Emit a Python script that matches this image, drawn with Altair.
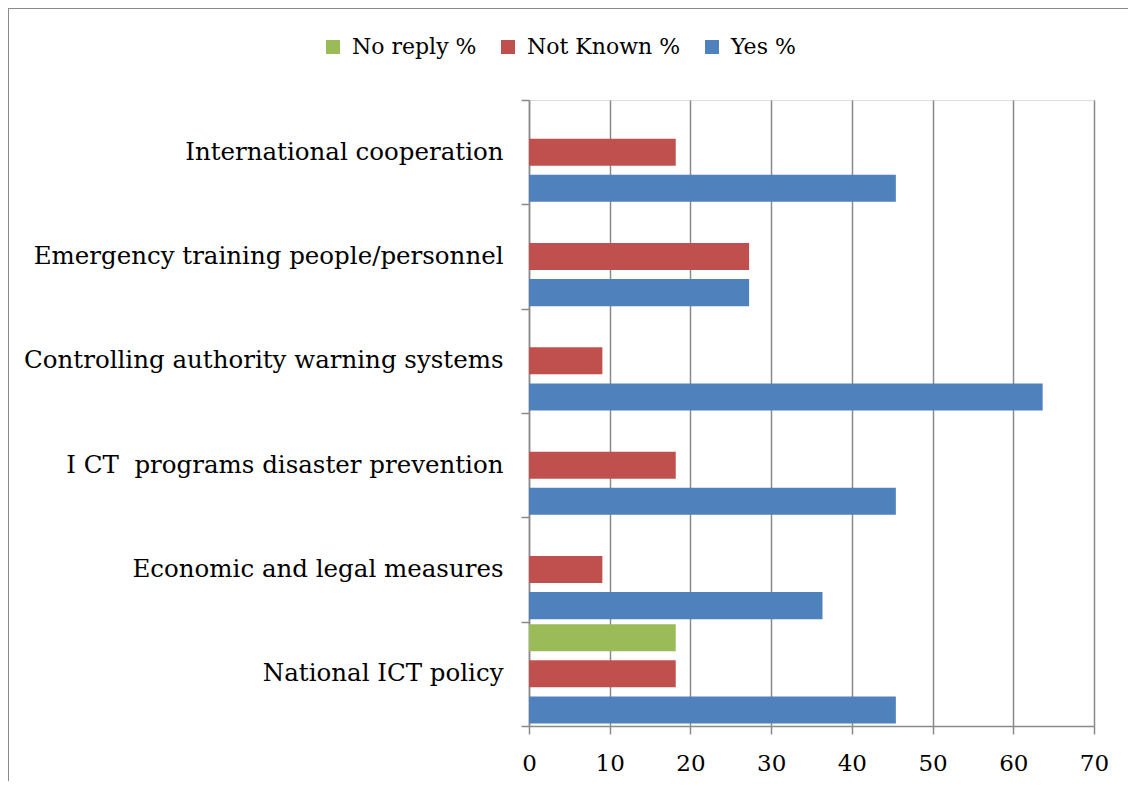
import altair as alt
import pandas as pd

categories = [
    "International cooperation",
    "Emergency training people/personnel",
    "Controlling authority warning systems",
    "I CT\u00a0 programs disaster prevention",
    "Economic and legal measures",
    "National ICT policy\u00a0",
]
series = ["No reply %", "Not Known %", "Yes %"]
no_reply = [0, 0, 0, 0, 0, 18.18]
not_known = [18.18, 27.27, 9.09, 18.18, 9.09, 18.18]
yes = [45.45, 27.27, 63.64, 45.45, 36.36, 45.45]
colors = ["#9BBB59", "#C0504D", "#4F81BD"]
x_ticks = [0, 10, 20, 30, 40, 50, 60, 70]

rows = []
for i, c in enumerate(categories):
    for s, vals in zip(series, [no_reply, not_known, yes]):
        rows.append({"category": c, "series": s, "value": vals[i]})
df = pd.DataFrame(rows)

FONT = "DejaVu Serif"
GRAY = "#8a8a8a"

bars = alt.Chart(df).mark_bar().encode(
    x=alt.X(
        "value:Q",
        scale=alt.Scale(domain=[0, 70], nice=False),
        axis=alt.Axis(
            values=x_ticks, title=None, grid=True, gridColor=GRAY, gridWidth=1.5,
            domainColor=GRAY, domainWidth=1.5, tickColor=GRAY, tickWidth=1.5, tickSize=8,
            labelFontSize=23, labelColor="black", labelPadding=18, labelFont=FONT,
            labelFlush=False,
        ),
    ),
    y=alt.Y(
        "category:N",
        sort=categories,
        scale=alt.Scale(paddingInner=0, paddingOuter=0),
        axis=alt.Axis(
            title=None, tickBand="extent", tickSize=8, tickColor=GRAY, tickWidth=1.5,
            domainColor=GRAY, domainWidth=1.5, labelFontSize=24.5, labelColor="black",
            labelPadding=18, labelFont=FONT, labelLimit=600,
        ),
    ),
    yOffset=alt.YOffset(
        "series:N", sort=series,
        scale=alt.Scale(domain=series, paddingInner=0.25, paddingOuter=0.07),
    ),
    color=alt.Color(
        "series:N",
        scale=alt.Scale(domain=series, range=colors),
        legend=alt.Legend(
            title=None, orient="none", legendX=-207, legendY=-64, direction="horizontal",
            symbolType="square", symbolSize=196, symbolStrokeWidth=0, symbolOpacity=1,
            labelFontSize=22, labelFont=FONT, labelColor="black", labelOffset=8,
            columnPadding=20, padding=0,
        ),
    ),
)

edge = pd.DataFrame({"a": [0]})
top_line = alt.Chart(edge).mark_rule(color=GRAY, strokeWidth=2).encode(
    x=alt.value(-521), x2=alt.value(700), y=alt.value(-92)
)
left_line = alt.Chart(edge).mark_rule(color=GRAY, strokeWidth=2).encode(
    x=alt.value(-521), y=alt.value(-92), y2=alt.value(900)
)

chart = alt.layer(top_line, left_line, bars).properties(
    width=565, height=626,
    autosize=alt.AutoSizeParams(type="none"),
    padding={"left": 521, "top": 92, "right": 34, "bottom": 55},
).configure_view(strokeWidth=0).configure(font=FONT)

chart.save("out.html", embed_options={"renderer": "svg", "actions": False})
